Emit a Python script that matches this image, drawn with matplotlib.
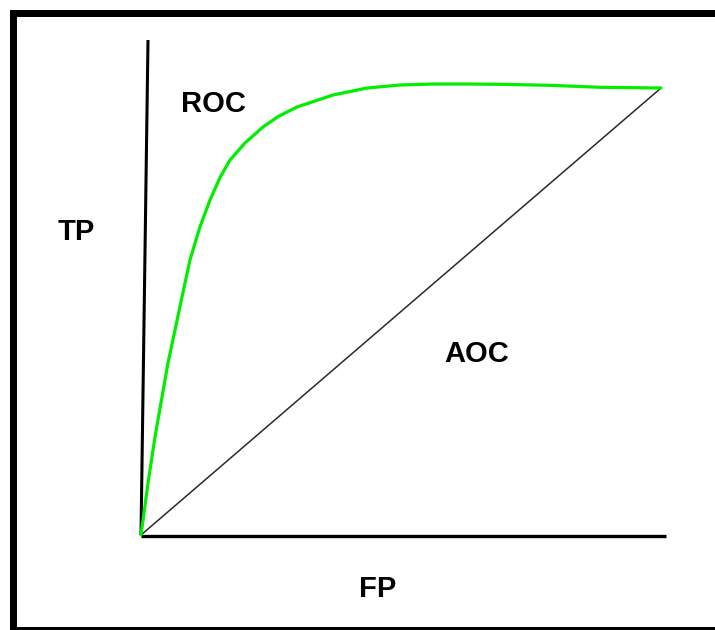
import matplotlib
matplotlib.use("Agg")
import matplotlib.pyplot as plt
from matplotlib.patches import Rectangle

# ROC curve (false positive rate vs true positive rate)
fpr = [0.0, 0.0135, 0.0269, 0.0404, 0.0519, 0.0654, 0.0788, 0.0942, 0.113, 0.1327,
       0.152, 0.1712, 0.2, 0.2346, 0.265, 0.3, 0.3692, 0.4346, 0.4981, 0.5615,
       0.6269, 0.6904, 0.7865, 0.8827, 1.0]
tpr = [0.0, 0.1163, 0.2192, 0.3087, 0.3848, 0.4586, 0.5324, 0.6152, 0.688, 0.7494,
       0.800, 0.8389, 0.877, 0.9128, 0.937, 0.9575, 0.9843, 1.0, 1.0067, 1.0089,
       1.0089, 1.0083, 1.0060, 1.0016, 1.0]

# chance diagonal
diag_x = [0.0, 1.0]
diag_y = [0.0, 1.0]

labels = {"ROC": (213.5, 112), "TP": (76.5, 240), "FP": (377.5, 597), "AOC": (477, 362)}

W, H = 715, 630
fig = plt.figure(figsize=(W / 100, H / 100), dpi=100)
fig.patch.set_facecolor("white")

# plot area: origin at (141, 535) px, (1, 1) at (661, 88) px
x0, x1, y0, y1 = 141, 661, 535, 88
ax = fig.add_axes([x0 / W, (H - y0) / H, (x1 - x0) / W, (y0 - y1) / H])
ax.set_xlim(0, 1)
ax.set_ylim(0, 1)
ax.axis("off")

sx = 1 / (x1 - x0)
sy = 1 / (y0 - y1)

# hand-drawn axis lines
ax.plot([0, 7 * sx], [0, (y0 - 40) * sy], color="black", lw=2.2,
        solid_capstyle="butt", clip_on=False)
ax.plot([0, (666 - x0) * sx], [-1 * sy, -1 * sy], color="black", lw=2.4,
        solid_capstyle="butt", clip_on=False)

ax.plot(diag_x, diag_y, color="#2a2a2a", lw=1.1, clip_on=False)
ax.plot(fpr, tpr, color="#00ee00", lw=2.3, clip_on=False,
        solid_capstyle="round", solid_joinstyle="round")

for txt, (px, py) in labels.items():
    fig.text(px / W, 1 - py / H, txt, ha="center", va="baseline",
             fontsize=21, fontweight="bold", family="Liberation Sans", color="black")

# frame bands
for (rx, ry, rw, rh) in [(10, 10, 705, 7), (10, 10, 7, 620), (10, 627, 705, 3)]:
    fig.patches.append(Rectangle((rx / W, 1 - (ry + rh) / H), rw / W, rh / H,
                                 transform=fig.transFigure, color="black", lw=0))

fig.savefig("out.png", dpi=100)
